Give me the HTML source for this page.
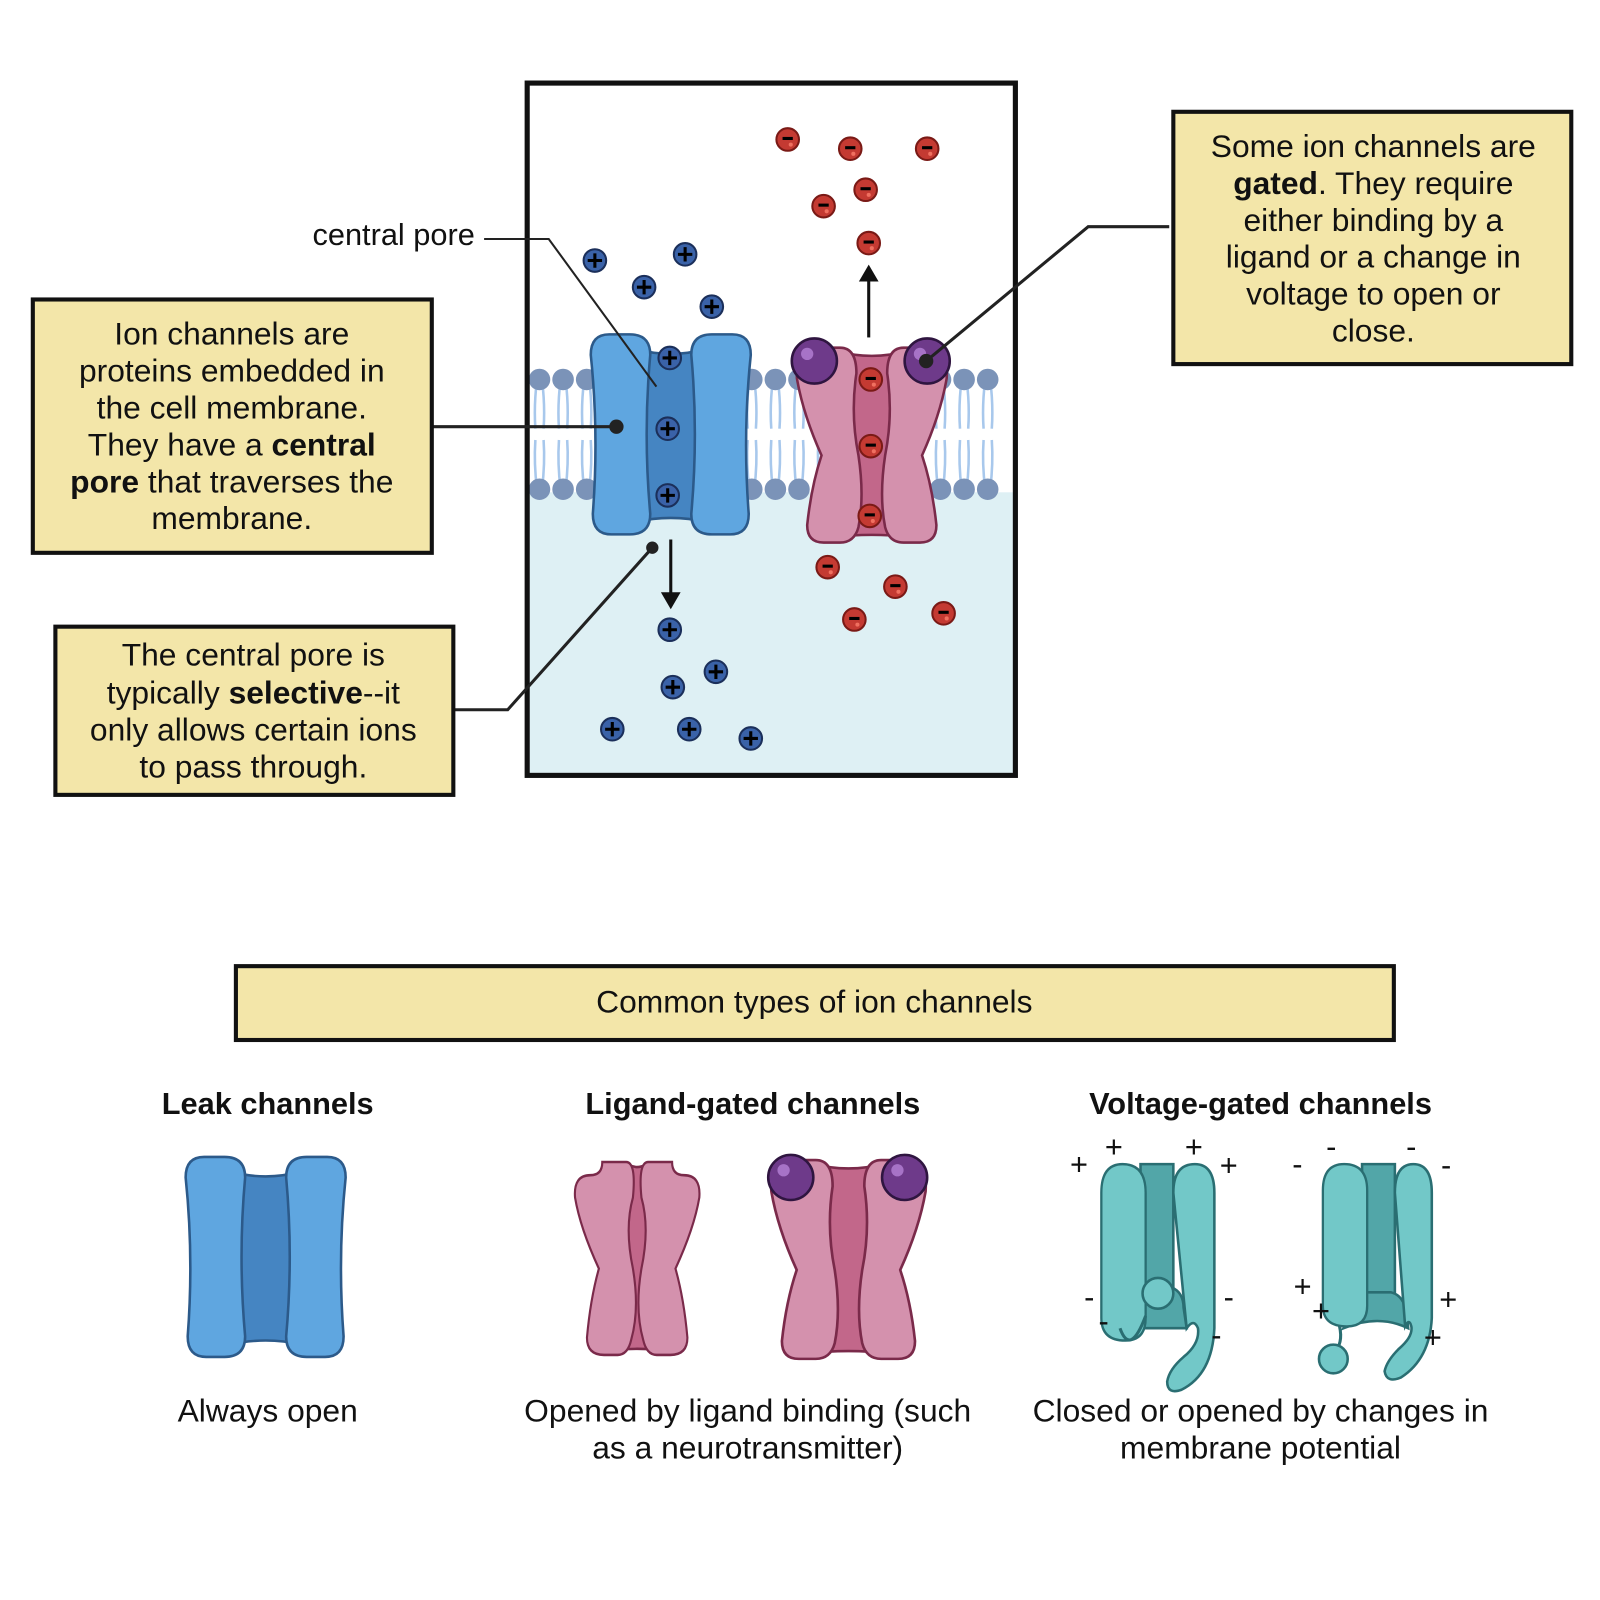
<!DOCTYPE html>
<html><head><meta charset="utf-8"><style>
html,body{margin:0;padding:0;background:#fff}
svg{display:block}
text{font-family:"Liberation Sans",sans-serif;fill:#111}
</style></head><body>
<svg id="s" width="1600" height="1600" viewBox="0 0 1560 1560" xmlns="http://www.w3.org/2000/svg">
<defs>
<g id="blueLobe"><path d="M20,0 H40 Q60,0 60,20 Q53,97 60,175 Q60,195 40,195 H22 Q4,195 4,175 Q10,97 2,20 Q2,0 20,0 Z" fill="#5fa6e0" stroke="#2c5a8a" stroke-width="2.5"/></g>
<g id="blueCh">
<path d="M45,14 Q80,24 115,14 L115,183 Q80,175 45,183 Z" fill="#4585c2" stroke="#2c5a8a" stroke-width="2.5"/>
<use href="#blueLobe"/>
<use href="#blueLobe" transform="translate(160,0) scale(-1,1)"/>
</g>
<g id="pinkLobe"><path d="M18,5 H44 Q60,5 60,30 Q54,70 62,110 Q68,150 62,180 Q58,195 44,195 H28 Q12,195 12,178 Q16,140 26,110 Q8,70 2,35 Q0,5 18,5 Z" fill="#d491ad" stroke="#7a2a4a" stroke-width="2.5"/></g>
<g id="pinkOpen">
<path d="M40,8 Q75,18 110,8 L115,190 Q75,185 35,190 Z" fill="#c2678a" stroke="#7a2a4a" stroke-width="2.5"/>
<use href="#pinkLobe"/>
<use href="#pinkLobe" transform="translate(150,0) scale(-1,1)"/>
</g>
<g id="ball"><circle r="22" fill="#6e3a8a" stroke="#2f1540" stroke-width="2.5"/><circle cx="-7" cy="-7" r="6" fill="#a773c7"/></g>
<g id="plusIon"><circle r="11" fill="#3a62a8" stroke="#1b2f5a" stroke-width="2"/><path d="M-7,0 H7 M0,-7 V7" stroke="#000" stroke-width="3"/></g>
<g id="minusIon"><circle r="11" fill="#c43a32" stroke="#7a1a16" stroke-width="2"/><path d="M-5,-1 H5" stroke="#000" stroke-width="3"/><circle cx="3" cy="5" r="2" fill="#f07060"/></g>
<g id="tealLobe"><path d="M25,0 Q50,0 50,28 V150 Q50,172 28,172 Q2,172 2,150 V28 Q2,0 25,0 Z" fill="#72c8c8" stroke="#2a6e72" stroke-width="2.5"/></g>
</defs>

<rect x="514" y="480" width="476" height="277" fill="#def0f4"/>
<g id="membrane"></g>
<rect x="514" y="81" width="476" height="675" fill="none" stroke="#111" stroke-width="5"/>

<use href="#blueCh" transform="translate(574,326)"/>
<use href="#pinkOpen" transform="translate(775,334)"/>
<use href="#ball" transform="translate(794,352)"/>
<use href="#ball" transform="translate(904,352)"/>
<g id="ions"></g>

<g stroke="#111" stroke-width="3" fill="#111">
<line x1="847" y1="329" x2="847" y2="271"/><path d="M840,273 L847,261 L854,273 Z"/>
<line x1="654" y1="526" x2="654" y2="581"/><path d="M647,579 L654,591 L661,579 Z"/>
</g>

<g stroke="#222" stroke-width="3" fill="none">
<polyline points="472,233 535,233 640,377" stroke-width="2"/>
<line x1="420" y1="416" x2="601" y2="416"/>
<polyline points="441,692 495,692 636,534"/>
<polyline points="1140,221 1061,221 903,352"/>
</g>
<g fill="#222"><circle cx="601" cy="416" r="7"/><circle cx="636" cy="534" r="6"/><circle cx="903" cy="352" r="7"/></g>

<text x="463" y="239" font-size="30" text-anchor="end">central pore</text>

<g>
<rect x="32" y="292" width="389" height="247" fill="#f3e6a9" stroke="#111" stroke-width="4"/>
<g font-size="31" text-anchor="middle">
<text x="226" y="336">Ion channels are</text>
<text x="226" y="372">proteins embedded in</text>
<text x="226" y="408">the cell membrane.</text>
<text x="226" y="444">They have a <tspan font-weight="bold">central</tspan></text>
<text x="226" y="480"><tspan font-weight="bold">pore</tspan> that traverses the</text>
<text x="226" y="516">membrane.</text>
</g></g>

<g>
<rect x="54" y="611" width="388" height="164" fill="#f3e6a9" stroke="#111" stroke-width="4"/>
<g font-size="31" text-anchor="middle">
<text x="247" y="649">The central pore is</text>
<text x="247" y="686">typically <tspan font-weight="bold">selective</tspan>--it</text>
<text x="247" y="722">only allows certain ions</text>
<text x="247" y="758">to pass through.</text>
</g></g>

<g>
<rect x="1144" y="109" width="388" height="246" fill="#f3e6a9" stroke="#111" stroke-width="4"/>
<g font-size="31" text-anchor="middle">
<text x="1339" y="153">Some ion channels are</text>
<text x="1339" y="189"><tspan font-weight="bold">gated</tspan>. They require</text>
<text x="1339" y="225">either binding by a</text>
<text x="1339" y="261">ligand or a change in</text>
<text x="1339" y="297">voltage to open or</text>
<text x="1339" y="333">close.</text>
</g></g>

<g>
<rect x="230" y="942" width="1129" height="72" fill="#f3e6a9" stroke="#111" stroke-width="4"/>
<text x="794" y="987" font-size="31" text-anchor="middle">Common types of ion channels</text>
</g>

<g font-size="30" font-weight="bold" text-anchor="middle">
<text x="261" y="1086">Leak channels</text>
<text x="734" y="1086">Ligand-gated channels</text>
<text x="1229" y="1086">Voltage-gated channels</text>
</g>
<g font-size="31" text-anchor="middle">
<text x="261" y="1386">Always open</text>
<text x="729" y="1386">Opened by ligand binding (such</text>
<text x="729" y="1422">as a neurotransmitter)</text>
<text x="1229" y="1386">Closed or opened by changes in</text>
<text x="1229" y="1422">membrane potential</text>
</g>

<use href="#blueCh" transform="translate(179,1128)"/>

<g transform="translate(559,1128) scale(0.83,0.99)">
<path d="M66,8 Q75,12 84,8 L100,190 Q75,188 50,190 Z" fill="#c2678a" stroke="#7a2a4a" stroke-width="2.5"/>
<path d="M20,18 Q34,18 34,5 H62 Q74,5 70,40 Q60,70 70,110 Q78,150 68,180 Q64,195 52,195 H36 Q16,195 16,178 Q20,140 30,110 Q8,70 2,40 Q0,18 20,18 Z" fill="#d491ad" stroke="#7a2a4a" stroke-width="2.5"/>
<path transform="translate(150,0) scale(-1,1)" d="M20,18 Q34,18 34,5 H62 Q74,5 70,40 Q60,70 70,110 Q78,150 68,180 Q64,195 52,195 H36 Q16,195 16,178 Q20,140 30,110 Q8,70 2,40 Q0,18 20,18 Z" fill="#d491ad" stroke="#7a2a4a" stroke-width="2.5"/>
</g>
<use href="#pinkOpen" transform="translate(750,1126) scale(1.03,1.02)"/>
<use href="#ball" transform="translate(771,1148)"/>
<use href="#ball" transform="translate(882,1148)"/>

<g transform="translate(1072,1135)">
<path d="M40,0 H72 V140 H40 Z" fill="#52a6a8" stroke="#2a6e72" stroke-width="2.5"/>
<path d="M30,140 Q30,125 45,120 H70 Q82,125 82,140 L85,160 H28 Z" fill="#52a6a8" stroke="#2a6e72" stroke-width="2.5"/>
<use href="#tealLobe" transform="translate(0,0) scale(0.9,1)"/>
<path d="M72,28 Q72,0 93,0 Q112,0 112,28 L112,160 Q110,205 80,220 Q66,225 66,212 Q68,200 82,188 Q98,175 96,160 Q92,150 85,160 Z" fill="#72c8c8" stroke="#2a6e72" stroke-width="2.5"/>
<path d="M20,160 Q30,188 45,148" fill="none" stroke="#2a6e72" stroke-width="3"/>
<circle cx="57" cy="126" r="15" fill="#72c8c8" stroke="#2a6e72" stroke-width="2.5"/>
</g>
<g transform="translate(1288,1135)">
<path d="M40,0 H72 V140 H40 Z" fill="#52a6a8" stroke="#2a6e72" stroke-width="2.5"/>
<path d="M28,150 Q30,125 45,125 H68 Q82,128 84,150 L85,160 Q56,146 22,160 Z" fill="#52a6a8" stroke="#2a6e72" stroke-width="2.5"/>
<use href="#tealLobe" transform="scale(0.9,0.92)"/>
<path d="M72,28 Q72,0 90,0 Q108,0 108,28 L108,150 Q106,190 78,208 Q64,214 62,202 Q64,192 76,180 Q90,168 88,158 Q86,150 82,158 Z" fill="#72c8c8" stroke="#2a6e72" stroke-width="2.5"/>
<path d="M18,158 Q22,175 12,185 Q6,195 12,190" fill="none" stroke="#2a6e72" stroke-width="3"/>
<circle cx="12" cy="190" r="14" fill="#72c8c8" stroke="#2a6e72" stroke-width="2.5"/>
</g>
<g font-size="30" text-anchor="middle">
<text x="1052" y="1145">+</text><text x="1086" y="1128">+</text><text x="1164" y="1128">+</text><text x="1198" y="1146">+</text>
<text x="1062" y="1275">-</text><text x="1076" y="1298">-</text><text x="1198" y="1275">-</text><text x="1186" y="1312">-</text>
<text x="1265" y="1145">-</text><text x="1298" y="1128">-</text><text x="1376" y="1128">-</text><text x="1410" y="1146">-</text>
<text x="1270" y="1264">+</text><text x="1288" y="1288">+</text><text x="1412" y="1277">+</text><text x="1397" y="1314">+</text>
</g>

<script>
const headXs = [];
for (let x = 526; x <= 980; x += 23) headXs.push(x);
const plusX = [580,628,668,694,653,651,651,653,698,656,597,672,732];
const plusY = [254,280,248,299,349,418,483,614,655,670,711,711,720];
const minusX = [768,829,904,844,803,847,849,849,848,807,873,833,920];
const minusY = [136,145,145,185,201,237,370,435,503,553,572,604,598];
const NS = 'http://www.w3.org/2000/svg';
const mem = document.getElementById('membrane');
headXs.forEach(x => {
  [[370,1],[477,-1]].forEach(([y,d]) => {
    for (const dx of [-4,4]) {
      const l = document.createElementNS(NS,'path');
      
      
      l.setAttribute('d', `M${x+dx*0.6},${y} Q${x+dx*1.4},${y+d*25} ${x+dx},${y+d*48}`);
      l.setAttribute('stroke','#a8c8ec'); l.setAttribute('stroke-width','2.5'); l.setAttribute('fill','none');
      mem.appendChild(l);
    }
    const c = document.createElementNS(NS,'circle');
    
    
    c.setAttribute('cx',x); c.setAttribute('cy',y); c.setAttribute('r','10.5'); c.setAttribute('fill','#7b93b8');
    mem.appendChild(c);
  });
});
const ions = document.getElementById('ions');
function addIon(x,y,t){
  const u = document.createElementNS(NS,'use');
  
  
  u.setAttribute('href', t==='p' ? '#plusIon' : '#minusIon');
  u.setAttribute('transform', `translate(${x},${y})`);
  ions.appendChild(u);
}
plusX.forEach((x,i)=>addIon(x,plusY[i],'p'));
minusX.forEach((x,i)=>addIon(x,minusY[i],'m'));
</script>
</svg>
</body></html>
